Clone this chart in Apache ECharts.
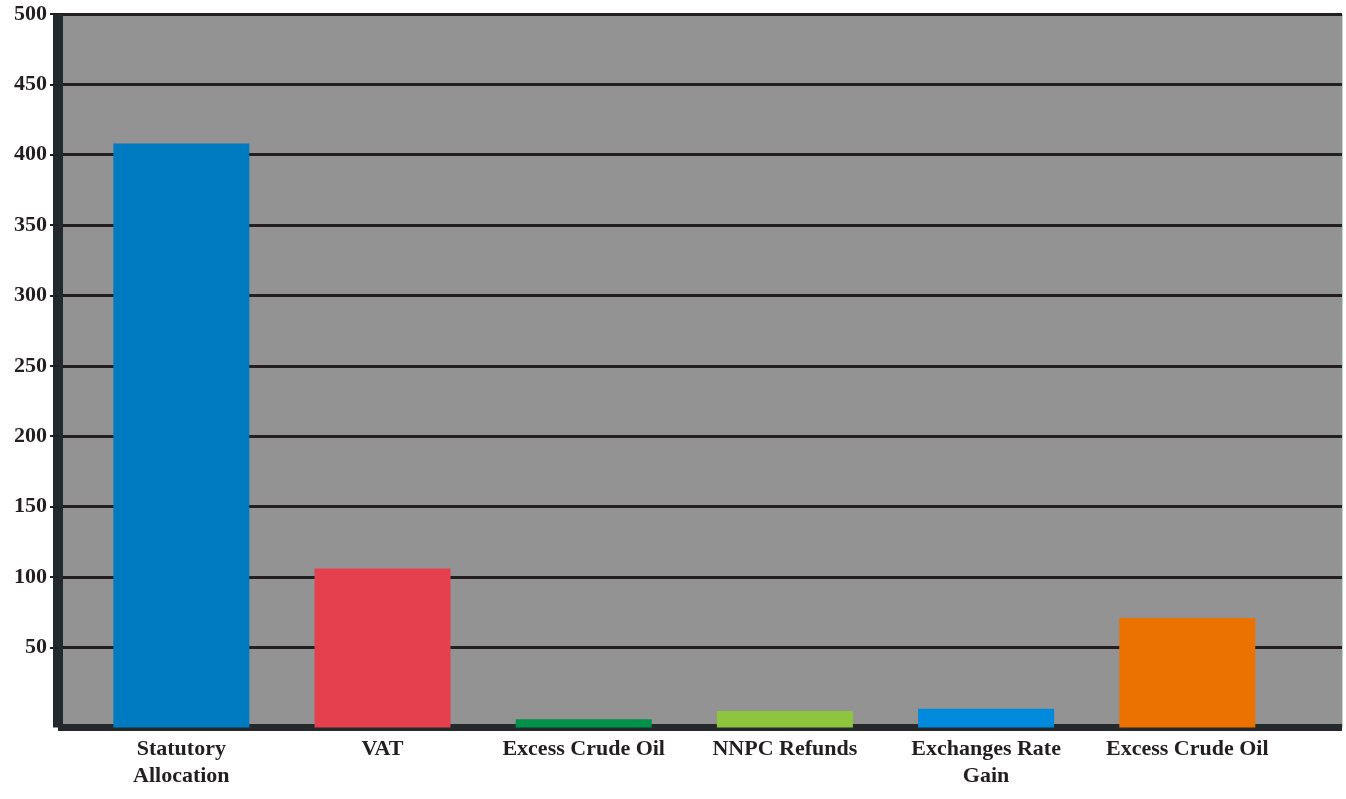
<!DOCTYPE html>
<html>
<head>
<meta charset="utf-8">
<script src="https://cdn.jsdelivr.net/npm/echarts@6/dist/echarts.min.js"></script>
<style>
  html, body { margin: 0; padding: 0; background: #ffffff; }
  #chart { width: 1346px; height: 799px; }
</style>
</head>
<body>
<div id="chart"></div>
<script>
// Revenue sources (billions) shown as bars
const categories = ['Statutory\nAllocation', 'VAT', 'Excess Crude Oil', 'NNPC Refunds', 'Exchanges Rate\nGain', 'Excess Crude Oil'];
const values = [408, 106, -1.2, 4.7, 6.4, 70.8];
const barColors = ['#007bc2', '#e5404e', '#00914b', '#8bc63e', '#008ade', '#ec7200'];
const yTicks = [50, 100, 150, 200, 250, 300, 350, 400, 450, 500];
const categoryIndex = [0, 1, 2, 3, 4, 5];

// value-axis extent: the floor sits a little below zero, where the bars stand
const yFloor = -7;
const yCeil = 500;

const serif = '"Liberation Serif", "Times New Roman", serif';
const ink = '#231f20';

const chart = echarts.init(document.getElementById('chart'), null, { renderer: 'canvas' });

chart.setOption({
  animation: false,
  backgroundColor: '#ffffff',
  grid: {
    left: 58, right: 4, top: 14, bottom: 71.5,
    show: true,
    backgroundColor: '#939393',
    borderColor: '#8da59c',
    borderWidth: 1
  },
  xAxis: {
    type: 'value',
    min: -0.613,
    max: 5.769,
    splitLine: { show: false },
    axisLine: { show: true, onZero: false, lineStyle: { color: '#25292c', width: 7, cap: 'butt' } },
    axisTick: { show: false },
    axisLabel: {
      customValues: categoryIndex,
      formatter: (v) => categories[Math.round(v)] || '',
      fontFamily: serif,
      fontWeight: 'bold',
      fontSize: 22,
      lineHeight: 27,
      color: ink,
      margin: 8
    }
  },
  yAxis: {
    type: 'value',
    min: yFloor,
    max: yCeil,
    z: 3,
    splitLine: { show: false },
    axisLine: { show: true, onZero: false, lineStyle: { color: '#222a2d', width: 10, cap: 'butt' } },
    axisTick: { show: true, customValues: yTicks, length: 8, lineStyle: { color: ink, width: 2 } },
    axisLabel: {
      customValues: yTicks,
      fontFamily: serif,
      fontWeight: 'bold',
      fontSize: 22,
      color: ink,
      margin: 11,
      padding: [4, 0, 0, 0]
    }
  },
  series: [{
    type: 'custom',
    z: 2,
    data: categoryIndex.map((i) => [i, values[i]]),
    renderItem: (params, api) => {
      const x = api.value(0);
      const top = api.coord([x, api.value(1)]);
      const base = api.coord([x, yFloor]);
      const w = api.size([0.676, 0])[0];
      return {
        type: 'rect',
        shape: {
          x: top[0] - w / 2,
          y: Math.min(top[1], base[1]),
          width: w,
          height: Math.abs(base[1] - top[1])
        },
        style: { fill: barColors[params.dataIndex] }
      };
    },
    markLine: {
      silent: true,
      z: 1,
      symbol: ['none', 'none'],
      label: { show: false },
      emphasis: { disabled: true },
      lineStyle: { color: ink, width: 3, type: 'solid' },
      data: yTicks.map((v) => ({ yAxis: v }))
    }
  }]
});
</script>
</body>
</html>
